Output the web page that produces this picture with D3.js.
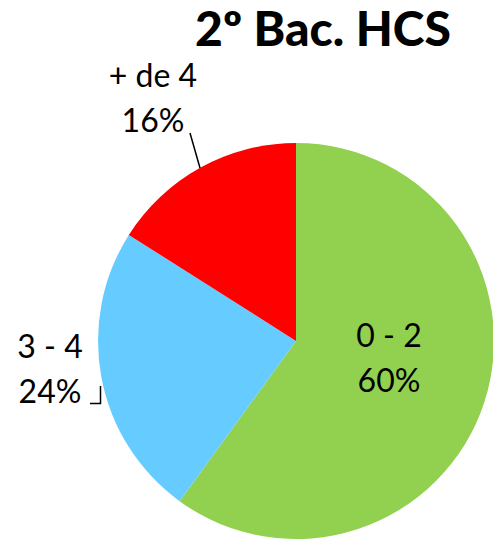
<!DOCTYPE html>
<html>
<head>
<meta charset="utf-8">
<script src="https://cdn.jsdelivr.net/npm/d3@7"></script>
<style>
  html, body { margin: 0; padding: 0; background: #fff; }
  svg { display: block; }
  text { font-family: Lato, "Open Sans", sans-serif; fill: #000; }
</style>
</head>
<body>
<div id="chart"></div>
<script>
// chart data
const title = "2º Bac. HCS";
const categories = ["0 - 2", "3 - 4", "+ de 4"];
const values = [60, 24, 16];
const colors = ["#92D050", "#66CCFF", "#FF0000"];

const width = 493;
const height = 540;
const cx = 296, cy = 341, radius = 198;

let svg = d3.select("#chart")
    .append("svg")
    .attr("width", width)
    .attr("height", height);

svg.append("text")
    .attr("x", 323)
    .attr("y", 46)
    .attr("text-anchor", "middle")
    .attr("font-size", 48)
    .attr("font-weight", "900")
    .text(title);

let data = categories.map(function(c, i) {
    return {name: c, value: values[i], color: colors[i]};
});

const pie = d3.pie()
    .sort(null)
    .value(d => d.value);

const arc = d3.arc()
    .innerRadius(0)
    .outerRadius(radius);

let arcs = pie(data);

let g = svg.append("g")
    .attr("transform", `translate(${cx},${cy})`);

g.selectAll("path")
    .data(arcs)
    .join("path")
    .attr("d", arc)
    .attr("fill", d => d.data.color);

// label positions (absolute)
const labelPos = [
    {x: 389, y: 347},
    {x: 50, y: 358},
    {x: 153, y: 87}
];

let labels = svg.selectAll("g.label")
    .data(arcs)
    .join("g")
    .attr("class", "label")
    .attr("transform", (d, i) => `translate(${labelPos[i].x},${labelPos[i].y})`);

labels.append("text")
    .attr("text-anchor", "middle")
    .attr("font-size", 32)
    .text(d => d.data.name);

labels.append("text")
    .attr("text-anchor", "middle")
    .attr("y", 45)
    .attr("font-size", 32)
    .text(d => d.data.value + "%");

// leader lines
svg.append("path")
    .attr("d", "M190,133L200,168")
    .attr("stroke", "#000")
    .attr("stroke-width", 1.5)
    .attr("fill", "none");

svg.append("path")
    .attr("d", "M90,403.5L100.5,403.5L100.5,386")
    .attr("stroke", "#000")
    .attr("stroke-width", 1.5)
    .attr("fill", "none");
</script>
</body>
</html>
